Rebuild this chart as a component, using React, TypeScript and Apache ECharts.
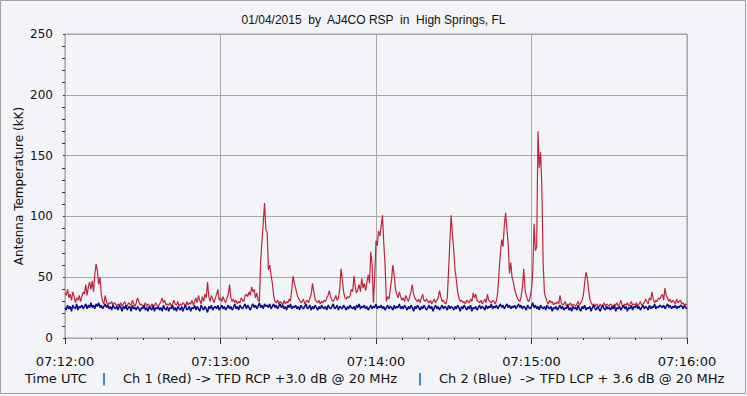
import React, { useEffect, useRef } from "react";
import * as echarts from "echarts";

const TITLE = "01/04/2015  by  AJ4CO RSP  in  High Springs, FL";
const Y_NAME = "Antenna Temperature (kK)";
const X_TICK_LABELS = ["07:12:00", "07:13:00", "07:14:00", "07:15:00", "07:16:00"];
const CAPTION_PARTS = [
  "Time UTC",
  "|",
  "Ch 1 (Red) -> TFD RCP +3.0 dB @ 20 MHz",
  "|",
  "Ch 2 (Blue)  -> TFD LCP + 3.6 dB @ 20 MHz",
];
// seconds between samples
const SAMPLE_STEP = 0.5;

// Ch 1 (Red), 2 samples per second from 07:12:00
const redValues = [
  37,35,40,33,36,31,38,34,29,33,31,35,30,34,38,36,44,35,42,46,
  40,47,38,52,61,55,44,50,36,30,28,35,30,27,29,28,30,27,29,28,
  26,28,27,29,26,28,30,27,26,29,28,27,31,28,26,29,33,30,27,28,
  26,27,29,26,28,27,25,28,27,26,29,27,26,28,30,33,29,31,27,28,
  27,29,26,28,31,28,27,30,26,28,27,29,28,26,30,27,29,28,31,27,
  30,33,29,35,31,28,34,30,36,33,46,34,30,35,32,29,33,36,40,31,
  33,30,34,31,29,33,36,44,33,30,32,29,31,28,30,29,33,31,30,35,
  36,34,38,35,42,38,40,33,37,31,30,63,80,95,111,89,87,56,60,52,
  45,35,30,29,31,28,30,29,27,31,28,30,29,32,30,40,51,45,41,36,
  33,31,29,30,32,28,30,31,29,33,36,45,38,32,30,29,31,28,30,29,
  31,30,33,35,39,34,31,30,32,35,31,33,40,57,48,38,33,32,34,33,
  35,40,38,51,42,37,40,44,38,49,41,45,39,46,52,45,71,60,29,50,
  80,76,88,84,92,101,78,60,30,34,32,40,48,60,52,40,36,33,38,34,
  31,33,30,35,32,30,34,38,44,36,33,31,30,32,29,33,36,31,30,32,
  30,29,31,28,30,32,29,31,33,39,34,30,31,29,28,33,55,80,101,85,
  72,56,48,38,33,30,31,29,30,28,31,30,29,32,30,37,33,36,31,30,
  29,31,28,30,32,29,36,31,30,29,31,30,28,31,38,55,70,81,75,92,
  103,90,78,53,62,50,46,40,36,33,31,30,34,42,57,40,35,31,30,34,
  40,55,94,72,75,170,140,153,124,61,37,33,30,28,31,29,30,27,29,28,
  30,28,35,29,27,28,30,26,28,27,29,26,28,27,26,28,30,27,29,31,
  35,45,54,50,40,32,29,27,28,26,28,27,25,28,26,27,29,26,28,27,
  26,28,27,25,28,27,29,26,28,31,27,26,28,27,29,26,28,30,27,28,
  27,29,26,28,30,27,28,29,32,30,28,33,31,38,32,29,31,30,33,32,
  34,36,31,41,35,33,30,32,29,31,30,28,32,29,30,31,28,29,27,28,27,
];

// Ch 2 (Blue), 2 samples per second from 07:12:00
const blueValues = [
  25,23,27,24,26,22,27,25,24,28,23,26,25,27,24,26,28,24,27,25,
  29,25,27,24,28,26,29,25,27,24,26,28,25,27,24,26,23,27,25,24,
  26,23,27,25,22,26,24,27,23,25,26,22,27,24,25,23,26,24,22,25,
  24,27,23,25,22,26,24,23,27,22,25,24,26,23,25,22,27,24,23,26,
  22,25,24,27,23,25,22,26,24,23,26,22,25,27,23,24,26,22,25,24,
  27,23,26,24,22,27,25,23,26,24,21,26,24,27,23,25,26,24,27,23,
  25,27,24,26,23,25,27,24,26,23,25,28,24,26,23,27,25,24,26,28,
  24,27,25,23,26,28,25,27,24,26,29,25,27,24,28,26,27,25,28,24,
  26,28,25,27,24,26,28,25,27,24,26,23,27,25,28,24,26,25,27,24,
  26,23,27,25,24,26,28,24,25,27,23,26,24,27,25,23,26,24,27,25,
  24,26,23,27,25,24,26,28,24,25,27,23,26,25,24,27,25,23,26,24,
  27,25,24,26,23,27,25,28,24,26,25,27,24,26,23,25,27,24,26,25,
  28,24,26,25,27,24,26,23,25,27,24,26,25,23,27,24,26,25,28,24,
  26,24,27,25,23,26,24,27,25,22,26,24,27,25,23,26,24,27,25,23,
  25,27,24,26,22,25,27,24,26,23,25,27,24,26,25,23,27,24,26,25,
  23,26,24,27,25,22,26,24,27,25,23,26,24,27,22,25,24,26,23,25,
  27,24,26,25,23,27,24,26,25,28,24,26,25,27,24,26,28,25,27,24,
  26,28,25,27,24,26,25,27,24,26,28,25,27,24,26,25,23,27,25,24,
  26,29,25,27,24,26,23,27,25,24,26,23,27,25,24,26,22,25,24,26,
  23,25,27,24,26,23,25,24,27,23,25,22,26,24,25,23,27,24,22,26,
  24,27,23,25,24,26,22,25,27,24,23,26,24,22,25,27,24,23,26,24,
  25,23,26,24,27,22,25,24,26,23,25,27,24,26,22,25,24,27,23,26,
  25,27,24,26,23,25,27,24,26,25,23,27,24,26,25,28,24,26,25,27,
  26,25,27,24,26,28,25,27,24,26,25,27,24,26,25,27,26,24,27,25,24,
];

const BG = "#f3f4f7";
const FONT_SANS = "DejaVu Sans";

export default function App() {
  const ref = useRef<HTMLDivElement>(null);

  useEffect(() => {
    if (!ref.current) return;
    const chart = echarts.init(ref.current, undefined, { renderer: "svg" });
    const redData = redValues.map((v, i) => [i * SAMPLE_STEP, v]);
    const blueData = blueValues.map((v, i) => [i * SAMPLE_STEP, v]);
    const captionX = [25, 104, 123, 420, 439];

    chart.setOption({
      animation: false,
      backgroundColor: BG,
      title: {
        text: TITLE,
        left: "center",
        top: 9,
        textStyle: {
          fontFamily: "Liberation Sans",
          fontSize: 12,
          fontWeight: "normal",
          color: "#111",
        },
      },
      grid: {
        left: 65,
        top: 34,
        width: 622,
        height: 304,
        show: true,
        borderColor: "#9a9a9a",
        borderWidth: 1,
        backgroundColor: BG,
      },
      xAxis: {
        type: "value",
        min: 0,
        max: 240,
        interval: 60,
        offset: 4,
        axisLine: { show: false },
        axisTick: { show: true, length: 6, lineStyle: { color: "#333" } },
        minorTick: { show: true, splitNumber: 6, length: 2, lineStyle: { color: "#333" } },
        splitLine: { show: true, lineStyle: { color: "#a8a8a8", width: 1 } },
        axisLabel: {
          margin: 13,
          fontFamily: FONT_SANS,
          fontSize: 13,
          color: "#111",
          formatter: (v: number) => X_TICK_LABELS[Math.round(v / 60)] ?? "",
        },
      },
      yAxis: {
        type: "value",
        min: 0,
        max: 250,
        interval: 50,
        offset: 4,
        name: Y_NAME,
        nameLocation: "middle",
        nameGap: 36,
        nameMoveOverlap: false,
        nameTextStyle: { fontFamily: FONT_SANS, fontSize: 12, color: "#111" },
        axisLine: { show: false },
        axisTick: { show: true, length: 2, lineStyle: { color: "#333" } },
        minorTick: { show: true, splitNumber: 5, length: 3, lineStyle: { color: "#333" } },
        splitLine: { show: true, lineStyle: { color: "#a8a8a8", width: 1 } },
        axisLabel: { margin: 8, fontFamily: FONT_SANS, fontSize: 12, color: "#111" },
      },
      series: [
        {
          name: "Ch 1 (Red)",
          type: "line",
          data: redData,
          showSymbol: false,
          symbol: "none",
          lineStyle: { color: "#c0243a", width: 1.2 },
          itemStyle: { color: "#c0243a" },
          z: 2,
        },
        {
          name: "Ch 2 (Blue)",
          type: "line",
          data: blueData,
          showSymbol: false,
          symbol: "none",
          lineStyle: { color: "#0a0a8a", width: 1.5 },
          itemStyle: { color: "#0a0a8a" },
          z: 3,
        },
      ],
      graphic: [
        {
          type: "rect",
          shape: { x: 0.5, y: 0.5, width: 745, height: 393 },
          style: { fill: "none", stroke: "#a0a0a0", lineWidth: 1 },
          silent: true,
        },
        ...CAPTION_PARTS.map((t, i) => ({
          type: "text",
          x: captionX[i],
          y: 378,
          style: {
            text: t,
            fontFamily: FONT_SANS,
            fontSize: 13,
            fill: "#111",
            align: t === "|" ? "center" : "left",
            verticalAlign: "middle",
          },
        })),
      ],
    });

    return () => chart.dispose();
  }, []);

  return (
    <div
      ref={ref}
      style={{ position: "fixed", left: 0, top: 0, width: 747, height: 396, background: BG }}
    />
  );
}
